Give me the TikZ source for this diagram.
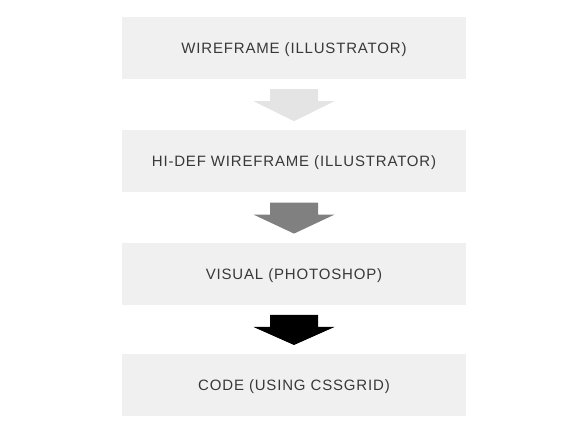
\documentclass[tikz,border=0pt]{standalone}
\usepackage{fontspec}
\setmainfont[LetterSpace=5.5]{Liberation Sans}
\usetikzlibrary{positioning,calc}

\definecolor{boxgray}{HTML}{F0F0F0}
\definecolor{arrowlight}{HTML}{E4E4E4}
\definecolor{arrowmid}{HTML}{808080}
\definecolor{textgray}{HTML}{383838}

\tikzset{
  stepbox/.style={fill=boxgray, minimum width=344pt, minimum height=62pt,
    inner sep=0pt, text=textgray, text height=11pt, text depth=0pt,
    font=\fontsize{15}{18}\selectfont}
}

\begin{document}
\begin{tikzpicture}[x=1pt,y=1pt]
            \useasboundingbox (0,0) rectangle (587,428);

            % Boxes
            \node[stepbox] (wire) at (294,380) {WIREFRAME (ILLUSTRATOR)};
            \node[stepbox, below=51pt of wire] (hidef) {HI-DEF WIREFRAME (ILLUSTRATOR)};
            \node[stepbox, below=50pt of hidef] (visual) {VISUAL (PHOTOSHOP)};
            \node[stepbox, below=49pt of visual] (code) {CODE (USING CSSGRID)};

            % Block arrows between the boxes
            \foreach \from/\to/\col in {wire/hidef/arrowlight, hidef/visual/arrowmid, visual/code/black}
              \fill[\col] ($(\from.south)+(-24,-10)$) -- ++(48,0) -- ++(0,-12) -- ++(16.5,0)
                -- ($(\to.north)+(0,9)$) -- ($(\from.south)+(-40.5,-22)$) -- ++(16.5,0) -- cycle;
        \end{tikzpicture}
\end{document}
